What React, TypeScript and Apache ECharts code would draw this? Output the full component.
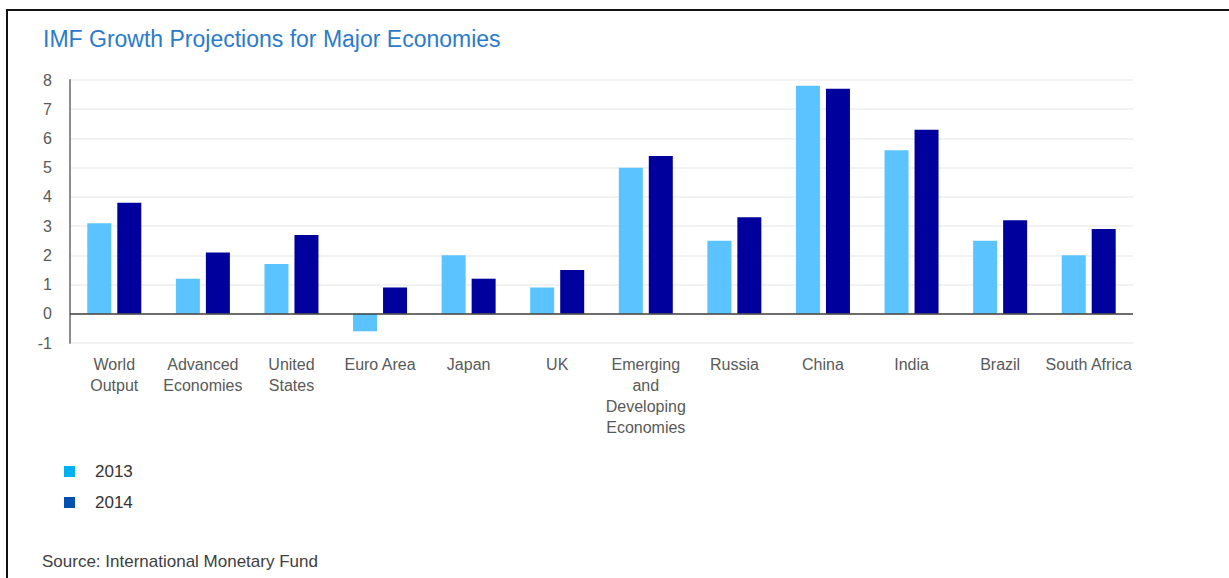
import React, { useEffect, useRef } from "react";
import * as echarts from "echarts";

const categories = [
  "World\nOutput",
  "Advanced\nEconomies",
  "United\nStates",
  "Euro Area",
  "Japan",
  "UK",
  "Emerging\nand\nDeveloping\nEconomies",
  "Russia",
  "China",
  "India",
  "Brazil",
  "South Africa",
];
const values2013 = [3.1, 1.2, 1.7, -0.6, 2.0, 0.9, 5.0, 2.5, 7.8, 5.6, 2.5, 2.0];
const values2014 = [3.8, 2.1, 2.7, 0.9, 1.2, 1.5, 5.4, 3.3, 7.7, 6.3, 3.2, 2.9];
const seriesNames = ["2013", "2014"];

const FONT = "'Liberation Sans', Arial, sans-serif";

export default function App() {
  const ref = useRef<HTMLDivElement>(null);
  useEffect(() => {
    if (!ref.current) return;
    const chart = echarts.init(ref.current, null, { renderer: "svg" });
    chart.setOption({
      animation: false,
      backgroundColor: "#ffffff",
      title: {
        text: "IMF Growth Projections for Major Economies",
        left: 43,
        top: 27,
        padding: 0,
        textStyle: { color: "#2B7BCB", fontSize: 23, fontWeight: "normal", fontFamily: FONT },
      },
      legend: {
        orient: "vertical",
        left: 64,
        top: 463,
        padding: 0,
        itemWidth: 11,
        itemHeight: 11,
        itemGap: 14,
        icon: "rect",
        textStyle: {
          color: "#333",
          fontSize: 17,
          lineHeight: 17,
          fontFamily: FONT,
          padding: [0, 0, 0, 15],
        },
        data: [
          { name: seriesNames[0], itemStyle: { color: "#00B0F0" } },
          { name: seriesNames[1], itemStyle: { color: "#0050B0" } },
        ],
      },
      grid: { left: 70, right: 96, top: 80, bottom: 235, containLabel: false },
      xAxis: {
        type: "category",
        data: categories,
        position: "bottom",
        axisLine: { show: false, onZero: false },
        axisTick: { show: false },
        axisLabel: {
          color: "#595959",
          fontSize: 16,
          fontFamily: FONT,
          lineHeight: 21,
          margin: 11,
          interval: 0,
        },
        splitLine: { show: false },
      },
      yAxis: {
        type: "value",
        min: -1,
        max: 8,
        interval: 1,
        axisLine: { show: true, lineStyle: { color: "#8c8c8c", width: 2 } },
        axisTick: { show: false },
        axisLabel: { color: "#595959", fontSize: 16, fontFamily: FONT, margin: 18 },
        splitLine: { show: true, lineStyle: { color: "#eeeeee", width: 1.5 } },
      },
      graphic: [
        { type: "line", shape: { x1: 6, y1: 10, x2: 1229, y2: 10 }, style: { stroke: "#111", lineWidth: 2 } },
        { type: "line", shape: { x1: 7, y1: 10, x2: 7, y2: 578 }, style: { stroke: "#111", lineWidth: 2 } },
        {
          type: "text",
          left: 42,
          top: 553,
          style: { text: "Source: International Monetary Fund", fill: "#404040", font: `17px ${FONT}` },
        },
      ],
      series: [
        {
          name: seriesNames[0],
          type: "bar",
          data: values2013,
          barWidth: 24,
          barGap: "25%",
          itemStyle: { color: "#5BC3FF" },
          markLine: {
            silent: true,
            symbol: "none",
            label: { show: false },
            lineStyle: { color: "#404040", type: "solid", width: 1.5 },
            data: [{ yAxis: 0 }],
          },
        },
        {
          name: seriesNames[1],
          type: "bar",
          data: values2014,
          barWidth: 24,
          barGap: "25%",
          itemStyle: { color: "#00009C" },
        },
      ],
    });
    return () => chart.dispose();
  }, []);
  return (
    <div
      ref={ref}
      style={{ position: "absolute", left: 0, top: 0, width: 1229, height: 578 }}
    />
  );
}
